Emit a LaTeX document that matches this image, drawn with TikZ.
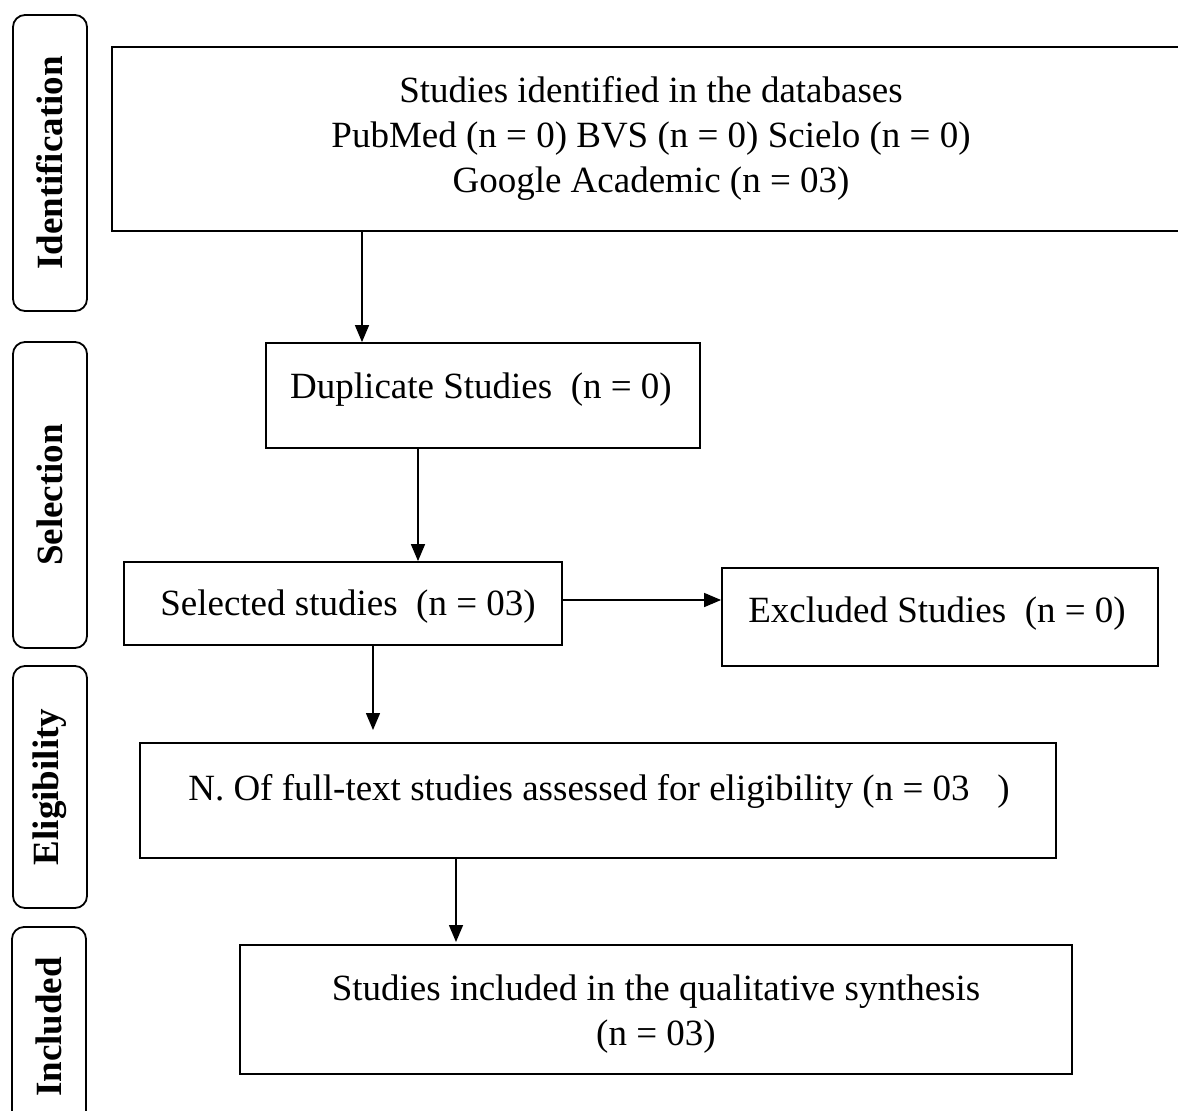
\documentclass[tikz,border=0pt]{standalone}
\usepackage{fontspec}
\setmainfont{Liberation Serif}
\usetikzlibrary{arrows.meta}
\begin{document}
\begin{tikzpicture}[x=1pt,y=-1pt,
 box/.style={draw, line width=1.8pt, inner sep=0pt},
 txt/.style={font=\fontsize{37}{45}\selectfont, align=center, inner sep=0pt},
 phase/.style={draw, line width=1.8pt, rounded corners=12pt, inner sep=0pt, rotate=90, font=\fontsize{37}{45}\selectfont\bfseries},
 arr/.style={line width=1.5pt, -{Triangle[length=17pt,width=14pt]}}]
\clip (0,0) rectangle (1178,1111);
% phase labels
\node[phase, minimum width=296, minimum height=74] (p1) at (50,163) {Identification};
\node[phase, minimum width=306, minimum height=74] (p2) at (50,495) {Selection};
\node[phase, minimum width=242, minimum height=74] (p3) at (50,787) {Eligibility};
\node[phase, minimum width=200, minimum height=74] (p4) at (49,1027) {Included};
% boxes
\node[box, minimum width=1078, minimum height=184] (b1) at (651,139) {};
\node[box, minimum width=434, minimum height=105] (b2) at (483,395.5) {};
\node[box, minimum width=438, minimum height=83] (b3) at (343,603.5) {};
\node[box, minimum width=436, minimum height=98] (b4) at (940,617) {};
\node[box, minimum width=916, minimum height=115] (b5) at (598,800.5) {};
\node[box, minimum width=832, minimum height=129] (b6) at (656,1009.5) {};
% texts
\node[txt] (t1) at (651,138) {Studies identified in the databases\\PubMed (n = 0) BVS (n = 0) Scielo (n = 0)\\Google Academic (n = 03)};
\node[txt] (t2) at (481,390) {Duplicate Studies\ \ (n = 0)};
\node[txt] (t3) at (348,607) {Selected studies\ \ (n = 03)};
\node[txt] (t4) at (937,614) {Excluded Studies\ \ (n = 0)};
\node[txt] (t5) at (599,791) {N. Of full-text studies assessed for eligibility (n = 03\ \ \ )};
\node[txt] (t6) at (656,1014) {Studies included in the qualitative synthesis\\(n = 03)};
% connectors
\draw[arr] (362,0 |- b1.south) -- (362,0 |- b2.north);
\draw[arr] (418,0 |- b2.south) -- (418,0 |- b3.north);
\draw[arr] (b3.east |- 0,600) -- (b4.west |- 0,600);
\draw[arr] (373,0 |- b3.south) -- (373,0 |- 0,730);
\draw[arr] (456,0 |- b5.south) -- (456,0 |- 0,942);
\end{tikzpicture}
\end{document}
